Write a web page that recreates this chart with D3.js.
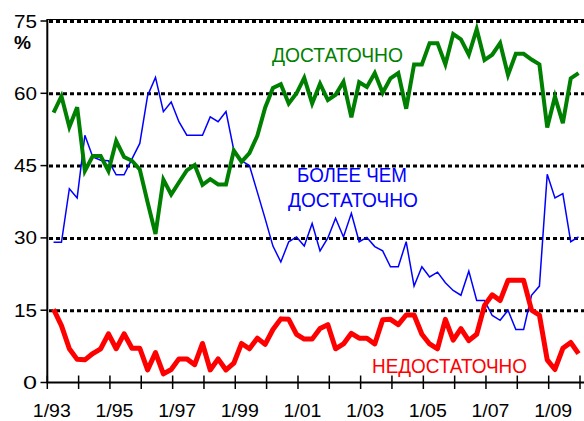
<!DOCTYPE html>
<html>
<head>
<meta charset="utf-8">
<script src="https://cdn.jsdelivr.net/npm/d3@7"></script>
<style>
  html, body { margin: 0; padding: 0; background: #fff; }
  svg { display: block; }
  text { font-family: "Liberation Sans Narrow", "Liberation Sans", "DejaVu Sans", sans-serif; }
</style>
</head>
<body>
<svg id="chart" width="584" height="421"></svg>
<script>
// ---- Data (quarterly survey, Mar 1993 – Dec 2009), values in % ----
const startYear = 1993, startMonth = 2; // March 1993, every 3 months
const enough = [56.0, 59.4, 53.0, 57.1, 43.9, 47.0, 47.0, 43.9, 50.1, 46.8, 46.0, 44.2, 37.4, 30.8, 42.1, 39.0,
  41.5, 44.0, 45.1, 41.0, 42.2, 41.1, 41.1, 48.1, 45.8, 47.6, 51.2, 57.0, 61.1, 61.9, 57.9, 60.0,
  63.2, 57.9, 62.0, 58.6, 59.7, 62.4, 55.0, 62.3, 61.3, 64.2, 60.1, 63.1, 64.2, 56.8, 66.0, 66.0,
  70.4, 70.4, 66.0, 72.3, 71.2, 68.0, 73.3, 66.9, 68.0, 70.4, 63.8, 68.2, 68.2, 67.0, 66.0, 52.9,
  59.3, 53.8, 63.1, 64.2];
const moreThanEnough = [29.1, 29.1, 40.2, 38.3, 51.3, 46.8, 46.1, 46.0, 43.1, 43.1, 46.4, 49.6, 59.5, 63.3, 56.2, 58.2,
  54.1, 51.3, 51.3, 51.3, 55.1, 54.1, 56.2, 48.2, 46.0, 45.0, 39.5, 34.0, 28.3, 25.0, 29.2, 30.2,
  28.3, 33.0, 27.3, 30.0, 34.1, 30.2, 35.1, 29.2, 30.1, 28.2, 27.3, 24.0, 24.0, 29.2, 20.0, 24.0,
  21.9, 22.9, 20.7, 19.1, 18.1, 23.1, 17.0, 17.0, 13.9, 12.9, 15.0, 11.0, 11.0, 18.1, 20.0, 43.2,
  38.3, 39.2, 29.2, 30.2];
const notEnough = [15.2, 11.8, 7.0, 4.8, 4.7, 6.0, 7.0, 10.1, 7.0, 10.1, 7.1, 7.1, 2.6, 6.2, 1.8, 2.7,
  4.9, 4.9, 3.7, 8.1, 2.6, 4.9, 2.6, 4.0, 8.1, 7.0, 9.2, 7.9, 11.0, 13.2, 13.1, 10.0,
  9.0, 9.0, 11.2, 12.0, 7.0, 8.0, 10.2, 9.2, 9.2, 8.0, 13.0, 13.1, 12.0, 14.0, 14.0, 10.0,
  8.0, 7.0, 13.1, 8.8, 11.2, 8.7, 10.0, 16.0, 18.2, 17.0, 21.2, 21.2, 21.2, 15.0, 14.0, 4.7,
  2.7, 7.1, 8.3, 6.0];
const yTicks = [0, 15, 30, 45, 60, 75];
const xLabelYears = [1993, 1995, 1997, 1999, 2001, 2003, 2005, 2007, 2009];
const labels = {
  enough: "ДОСТАТОЧНО",
  more1: "БОЛЕЕ ЧЕМ",
  more2: "ДОСТАТОЧНО",
  notEnough: "НЕДОСТАТОЧНО",
  unit: "%"
};

const dates = enough.map((_, i) => new Date(startYear, startMonth + 3 * i, 15));

// ---- Scales ----
const svg = d3.select("#chart");
const x = d3.scaleTime().domain([new Date(1993, 0, 1), new Date(2010, 0, 1)]).range([47.3, 580]);
const y = d3.scaleLinear().domain([0, 75]).range([382.5, 21]);

// ---- Grid (dotted) ----
svg.append("g").selectAll("line").data(yTicks.filter(d => d > 0)).join("line")
  .attr("x1", 49).attr("x2", 584)
  .attr("y1", d => y(d) + 0.5).attr("y2", d => y(d) + 0.5)
  .attr("stroke", "#000").attr("stroke-width", 3).attr("stroke-dasharray", "4,3");

// top frame line
svg.append("line").attr("x1", 47).attr("x2", 584).attr("y1", 19.5).attr("y2", 19.5)
  .attr("stroke", "#000").attr("stroke-width", 1.2);

// ---- Axes ----
const yAxis = d3.axisLeft(y).tickValues(yTicks).tickSize(0).tickFormat("");
const gy = svg.append("g").attr("transform", "translate(47.3,0)").call(yAxis);
gy.select(".domain").remove();
svg.append("line").attr("x1", 47.3).attr("x2", 47.3).attr("y1", 19).attr("y2", 383)
  .attr("stroke", "#000").attr("stroke-width", 2);
svg.append("g").selectAll("line").data(yTicks).join("line")
  .attr("x1", 40.5).attr("x2", 48).attr("y1", d => y(d)).attr("y2", d => y(d))
  .attr("stroke", "#000").attr("stroke-width", 1.5);
svg.append("g").selectAll("text").data(yTicks).join("text")
  .attr("x", 37).attr("y", d => y(d) + 6.5)
  .attr("text-anchor", "end")
  .attr("font-size", 19)
  .attr("textLength", d => String(d).length === 2 ? 23 : 14)
  .attr("lengthAdjust", "spacingAndGlyphs")
  .text(d => d);

svg.append("text").attr("x", 14).attr("y", 49).attr("font-size", 18).attr("font-weight", "bold")
  .attr("textLength", 17).attr("lengthAdjust", "spacingAndGlyphs").text(labels.unit);

const years = d3.timeYear.range(new Date(1993, 0, 1), new Date(2010, 0, 2));
const xAxis = d3.axisBottom(x).tickValues(years).tickSize(0).tickFormat("");
const gx = svg.append("g").attr("transform", "translate(0,382.5)").call(xAxis);
gx.select(".domain").remove();
svg.append("line").attr("x1", 46.5).attr("x2", 584).attr("y1", 382.5).attr("y2", 382.5)
  .attr("stroke", "#000").attr("stroke-width", 2);
svg.append("g").selectAll("line").data(years).join("line")
  .attr("x1", d => x(d)).attr("x2", d => x(d)).attr("y1", 375.5).attr("y2", 389)
  .attr("stroke", "#000").attr("stroke-width", 1.5);
const fmt = d3.timeFormat("%y");
svg.append("g").selectAll("text").data(xLabelYears.map(yr => new Date(yr, 0, 1))).join("text")
  .attr("x", d => x(d) + 4.5).attr("y", 417)
  .attr("text-anchor", "middle")
  .attr("font-size", 19)
  .attr("textLength", 38).attr("lengthAdjust", "spacingAndGlyphs")
  .text(d => "1/" + fmt(d));

// ---- Lines ----
const line = vals => d3.line().x((d, i) => x(dates[i])).y(d => y(d))(vals);
svg.append("path").attr("d", line(moreThanEnough)).attr("fill", "none")
  .attr("stroke", "#0000ff").attr("stroke-width", 1.5).attr("stroke-linejoin", "miter");
svg.append("path").attr("d", line(enough)).attr("fill", "none")
  .attr("stroke", "#008000").attr("stroke-width", 4).attr("stroke-linejoin", "miter");
svg.append("path").attr("d", line(notEnough)).attr("fill", "none")
  .attr("stroke", "#ff0000").attr("stroke-width", 5).attr("stroke-linejoin", "round");

// ---- Series labels ----
function lab(txt, x0, w, base, color) {
  svg.append("text").attr("x", x0).attr("y", base).attr("fill", color)
    .attr("font-size", 21).attr("textLength", w).attr("lengthAdjust", "spacingAndGlyphs")
    .text(txt);
}
lab(labels.enough, 272, 131, 62, "#008000");
lab(labels.more1, 297, 110, 182, "#0000ff");
lab(labels.more2, 288, 130, 207, "#0000ff");
lab(labels.notEnough, 372, 155, 373, "#ff0000");
</script>
</body>
</html>
